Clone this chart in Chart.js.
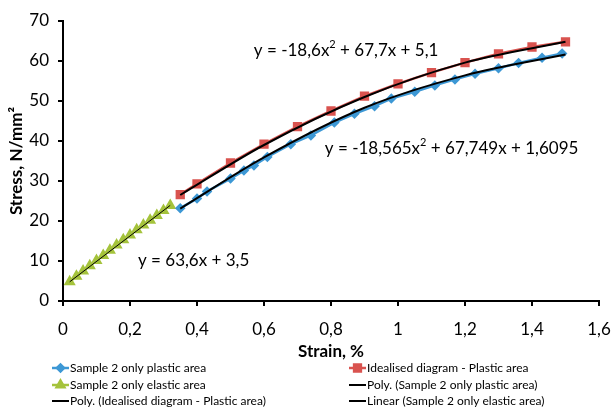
<!DOCTYPE html>
<html>
<head>
<meta charset="utf-8">
<title>Stress-strain</title>
<script src="https://cdn.jsdelivr.net/npm/chart.js@4.4.1/dist/chart.umd.min.js"></script>
<style>
    html, body { margin: 0; padding: 0; background: #fff; }
    #wrap { position: relative; width: 611px; height: 410px; }
</style>
</head>
<body>
<div id="wrap"><canvas id="chart" width="611" height="410"></canvas></div>
<script>
// --- Data ---
// Sample 2, plastic area (blue diamonds)
const plasticStrain = [0.35, 0.40, 0.43, 0.50, 0.54, 0.57, 0.61, 0.68, 0.74, 0.81, 0.87, 0.93, 0.98, 1.05, 1.11, 1.17, 1.23, 1.30, 1.36, 1.43, 1.49];
const plasticStress = [23.2, 25.6, 27.4, 30.6, 32.6, 33.9, 36.0, 39.2, 41.4, 44.6, 46.8, 48.7, 50.6, 52.3, 53.9, 55.4, 56.8, 58.2, 59.5, 60.8, 61.9];

// Idealised diagram, plastic area (red squares)
const idealStrain = [0.35, 0.40, 0.50, 0.60, 0.70, 0.80, 0.90, 1.00, 1.10, 1.20, 1.30, 1.40, 1.50];
const idealStress = [26.6, 29.3, 34.5, 39.2, 43.6, 47.5, 51.2, 54.3, 57.1, 59.6, 61.8, 63.5, 64.8];

// Sample 2, elastic area (green triangles)
const elasticStrain = [0.02, 0.04, 0.06, 0.08, 0.10, 0.12, 0.14, 0.16, 0.18, 0.20, 0.22, 0.24, 0.26, 0.28, 0.30, 0.32];
const elasticStress = [4.8, 6.2, 7.5, 8.8, 10.1, 11.4, 12.7, 14.0, 15.3, 16.5, 17.8, 19.0, 20.2, 21.4, 22.6, 23.9];

// Trend lines, points
const polyPlasticStrain = [0.35, 0.60, 0.90, 1.20, 1.50];
const polyPlasticStress = [23.1, 35.9, 48.3, 56.4, 61.6];
const polyIdealStrain = [0.35, 0.60, 0.90, 1.20, 1.50];
const polyIdealStress = [26.5, 39.0, 51.0, 59.6, 64.8];
const linearElasticStrain = [0.02, 0.32];
const linearElasticStress = [4.8, 23.9];

// Equation labels (anchored in data units), '^' marks the superscript
const equationTexts = ['y = -18,6x^2 + 67,7x + 5,1', 'y = -18,565x^2 + 67,749x + 1,6095', 'y = 63,6x + 3,5'];
const equationStrain = [0.845, 1.16, 0.39];
const equationStress = [62.7, 38.2, 10.2];

// Axis ticks
const strainTicks = [0, 0.2, 0.4, 0.6, 0.8, 1, 1.2, 1.4, 1.6];
const stressTicks = [0, 10, 20, 30, 40, 50, 60, 70];

// --- Style ---
const FONT = 'Lato, "Open Sans", sans-serif';
const BLUE = '#3D98D5';
const RED = '#D9534F';
const GREEN = '#A5C33C';
const LEGEND_COLS = [52, 349];
const LEGEND_ROWS = [368, 385, 401];

const toPoints = (xs, ys) => xs.map((x, i) => ({ x: x, y: ys[i] }));
const formatStrain = (v) => String(Math.round(v * 10) / 10).replace('.', ',');

// draws "a^2 b" with a raised, smaller exponent, centred on (cx, cy)
function drawEquation(ctx, text, cx, cy) {
    const parts = text.split('^');
    const base = '17px ' + FONT, sup = '11px ' + FONT;
    const pieces = [];
    parts.forEach((p, i) => {
        if (i === 0) { pieces.push({ t: p, f: base, dy: 0 }); return; }
        pieces.push({ t: p.charAt(0), f: sup, dy: -6 });
        pieces.push({ t: p.slice(1), f: base, dy: 0 });
    });
    let total = 0;
    pieces.forEach(pc => { ctx.font = pc.f; pc.w = ctx.measureText(pc.t).width; total += pc.w; });
    let x = cx - total / 2;
    pieces.forEach(pc => {
        ctx.font = pc.f;
        ctx.fillText(pc.t, x, cy + pc.dy);
        x += pc.w;
    });
}

const equationPlugin = {
    id: 'equations',
    afterDatasetsDraw(chart) {
        const ctx = chart.ctx;
        const xs = chart.scales.x, ys = chart.scales.y;
        ctx.save();
        ctx.fillStyle = '#000';
        ctx.textAlign = 'left';
        ctx.textBaseline = 'middle';
        equationTexts.forEach((t, i) => {
            drawEquation(ctx, t, xs.getPixelForValue(equationStrain[i]), ys.getPixelForValue(equationStress[i]));
        });
        ctx.restore();
    }
};

const legendPlugin = {
    id: 'gridLegend',
    afterDraw(chart) {
        const ctx = chart.ctx;
        ctx.save();
        ctx.font = '12px ' + FONT;
        ctx.textBaseline = 'middle';
        chart.data.datasets.forEach((ds, i) => {
            const x = LEGEND_COLS[i % 2];
            const y = LEGEND_ROWS[Math.floor(i / 2)];
            ctx.strokeStyle = ds.borderColor;
            ctx.lineWidth = ds.pointRadius > 0 ? 2.5 : 2;
            ctx.beginPath();
            ctx.moveTo(x, y);
            ctx.lineTo(x + 17, y);
            ctx.stroke();
            if (ds.pointRadius > 0) {
                ctx.fillStyle = ds.pointBackgroundColor;
                ctx.strokeStyle = ds.pointBorderColor;
                Chart.helpers.drawPoint(ctx, { pointStyle: ds.pointStyle, radius: ds.pointRadius, rotation: 0, borderWidth: 1 }, x + 8.5, y);
            }
            ctx.fillStyle = '#000';
            ctx.fillText(ds.label, x + 18, y);
        });
        ctx.restore();
    }
};

const seriesDataset = (label, data, color, style, radius) => ({
    label: label,
    data: data,
    borderColor: color,
    backgroundColor: color,
    pointBackgroundColor: color,
    pointBorderColor: color,
    pointStyle: style,
    pointRadius: radius,
    borderWidth: 2.5,
    order: 2,
});

const trendDataset = (label, data, width) => ({
    label: label,
    data: data,
    borderColor: '#000',
    backgroundColor: '#000',
    pointRadius: 0,
    borderWidth: width,
    cubicInterpolationMode: 'monotone',
    order: 1,
});

new Chart(document.getElementById('chart'), {
    type: 'line',
    data: {
        datasets: [
            seriesDataset('Sample 2 only plastic area', toPoints(plasticStrain, plasticStress), BLUE, 'rectRot', 3.5),
            seriesDataset('Idealised diagram - Plastic area', toPoints(idealStrain, idealStress), RED, 'rect', 4.8),
            seriesDataset('Sample 2 only elastic area', toPoints(elasticStrain, elasticStress), GREEN, 'triangle', 4.5),
            trendDataset('Poly. (Sample 2 only plastic area)', toPoints(polyPlasticStrain, polyPlasticStress), 2),
            trendDataset('Poly. (Idealised diagram - Plastic area)', toPoints(polyIdealStrain, polyIdealStress), 2),
            trendDataset('Linear (Sample 2 only elastic area)', toPoints(linearElasticStrain, linearElasticStress), 1),
        ]
    },
    options: {
        responsive: false,
        animation: false,
        devicePixelRatio: 1,
        layout: { padding: { left: 0, top: 21, right: 12, bottom: 48 } },
        plugins: {
            legend: { display: false },
            tooltip: { enabled: false },
        },
        scales: {
            x: {
                type: 'linear',
                min: strainTicks[0],
                max: strainTicks[strainTicks.length - 1],
                afterBuildTicks: (scale) => { scale.ticks = strainTicks.map(v => ({ value: v })); },
                afterFit: (scale) => { scale.height = 61; scale.paddingRight = 0; },
                ticks: {
                    callback: formatStrain,
                    color: '#000',
                    font: { family: FONT, size: 17 },
                    padding: 13,
                    maxRotation: 0,
                },
                grid: { drawOnChartArea: false, drawTicks: true, tickLength: 5, color: '#000', lineWidth: 2 },
                border: { color: '#000', width: 2 },
                title: {
                    display: true,
                    text: 'Strain, %',
                    color: '#000',
                    font: { family: FONT, size: 17, weight: 'bold' },
                    padding: { top: 0, bottom: 0 },
                },
            },
            y: {
                type: 'linear',
                min: stressTicks[0],
                max: stressTicks[stressTicks.length - 1],
                afterBuildTicks: (scale) => { scale.ticks = stressTicks.map(v => ({ value: v })); },
                afterFit: (scale) => { scale.width = 63; },
                ticks: {
                    color: '#000',
                    font: { family: FONT, size: 17 },
                    padding: 9,
                },
                grid: { drawOnChartArea: false, drawTicks: true, tickLength: 5, color: '#000', lineWidth: 2 },
                border: { color: '#000', width: 2 },
                title: {
                    display: true,
                    text: 'Stress, N/mm²',
                    color: '#000',
                    font: { family: FONT, size: 17, weight: 'bold' },
                    padding: { top: 6, bottom: 0 },
                },
            },
        },
    },
    plugins: [equationPlugin, legendPlugin],
});
</script>
</body>
</html>
